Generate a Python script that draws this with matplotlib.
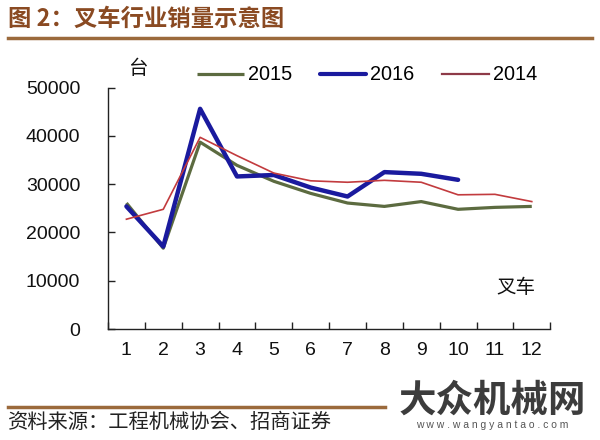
import matplotlib
matplotlib.use("Agg")
import matplotlib.pyplot as plt
from matplotlib.lines import Line2D
import numpy as np

plt.rcParams['font.family'] = ['Liberation Sans', 'Noto Sans CJK SC', 'DejaVu Sans']

months = [1, 2, 3, 4, 5, 6, 7, 8, 9, 10, 11, 12]
month_labels = ['1', '2', '3', '4', '5', '6', '7', '8', '9', '10', '11', '12']
sales_2015 = [26100, 16750, 38700, 33900, 30600, 28100, 26100, 25400, 26400, 24800, 25200, 25400]
sales_2016 = [25400, 17100, 45600, 31600, 31900, 29300, 27450, 32500, 32150, 30900]
sales_2014 = [22750, 24800, 39700, 35900, 32300, 30700, 30400, 30800, 30400, 27800, 27900, 26400]
y_ticks = [0, 10000, 20000, 30000, 40000, 50000]

title = "图 2：叉车行业销量示意图"
source = "资料来源：工程机械协会、招商证券"

fig = plt.figure(figsize=(6, 4.4), dpi=100)
ax = fig.add_axes([0.18, 0.252, 0.737, 0.549])

ax.plot(months, sales_2015, color='#5c6b40', lw=2.3, label='2015', solid_capstyle='butt')
ax.plot(months[:len(sales_2016)], sales_2016, color='#1a1a9e', lw=3.2, label='2016', solid_capstyle='round')
ax.plot(months, sales_2014, color='#c23b3e', lw=1.2, label='2014')

ax.set_xlim(0.5, 12.5)
ax.set_ylim(0, 50000)
ax.set_yticks(y_ticks)
ax.set_yticklabels([str(v) for v in y_ticks], fontsize=14, color='#111111')
ax.set_xticks(months)
ax.set_xticklabels(month_labels, fontsize=14, color='#111111')
ax.tick_params(axis='x', which='major', length=0, pad=9)
ax.set_xticks(np.arange(0.5, 13, 1), minor=True)
ax.tick_params(axis='x', which='minor', direction='in', length=5, width=1, color='#222222')
ax.tick_params(axis='y', direction='in', length=5, width=1, color='#222222', pad=20)
for s in ['top', 'right']:
    ax.spines[s].set_visible(False)
for s in ['left', 'bottom']:
    ax.spines[s].set_color('#222222')
    ax.spines[s].set_linewidth(1)

leg = ax.legend(ncol=3, loc='center left', bbox_to_anchor=(197 / 600, 1 - 75 / 440),
                bbox_transform=fig.transFigure, frameon=False,
                fontsize=14.3, handlelength=2.35, handletextpad=0.2, columnspacing=1.4,
                borderaxespad=0, borderpad=0)
for h, c, w in zip(leg.get_lines(), ['#5c6b40', '#1a1a9e', '#8e3a48'], [2.3, 3.0, 1.6]):
    h.set_color(c)
    h.set_linewidth(w)

fig.text(0.213, 0.845, "台", fontsize=14, family=['Noto Sans CJK SC'], ha='left', va='center', color='#111111')
fig.text(0.828, 0.347, "叉车", fontsize=14, family=['Noto Sans CJK SC'], ha='left', va='center', color='#111111')

# title and rules
fig.text(0.013, 0.958, title, fontsize=16.8, family=['Noto Sans CJK SC', 'DejaVu Sans'],
         weight='bold', color='#8a4a22', ha='left', va='center')
fig.add_artist(Line2D([0.013, 0.987], [0.914, 0.914], transform=fig.transFigure, color='#9b6a3c', lw=2.5))
fig.add_artist(Line2D([0.013, 0.642], [0.075, 0.075], transform=fig.transFigure, color='#9b6a3c', lw=2.5))
fig.text(0.013, 0.04, source, fontsize=14.6, family=['Noto Sans CJK SC'], color='#222222',
         ha='left', va='center')

# watermark
fig.text(0.82, 0.09, "大众机械网", fontsize=27, family=['Noto Sans CJK SC'], weight='bold',
         color='#3c3c3c', ha='center', va='center')
fig.text(0.82, 0.035, "w w w . w a n g y a n t a o . c o m", fontsize=7.5, color='#555555',
         ha='center', va='center')

fig.savefig("out.png", dpi=100)
